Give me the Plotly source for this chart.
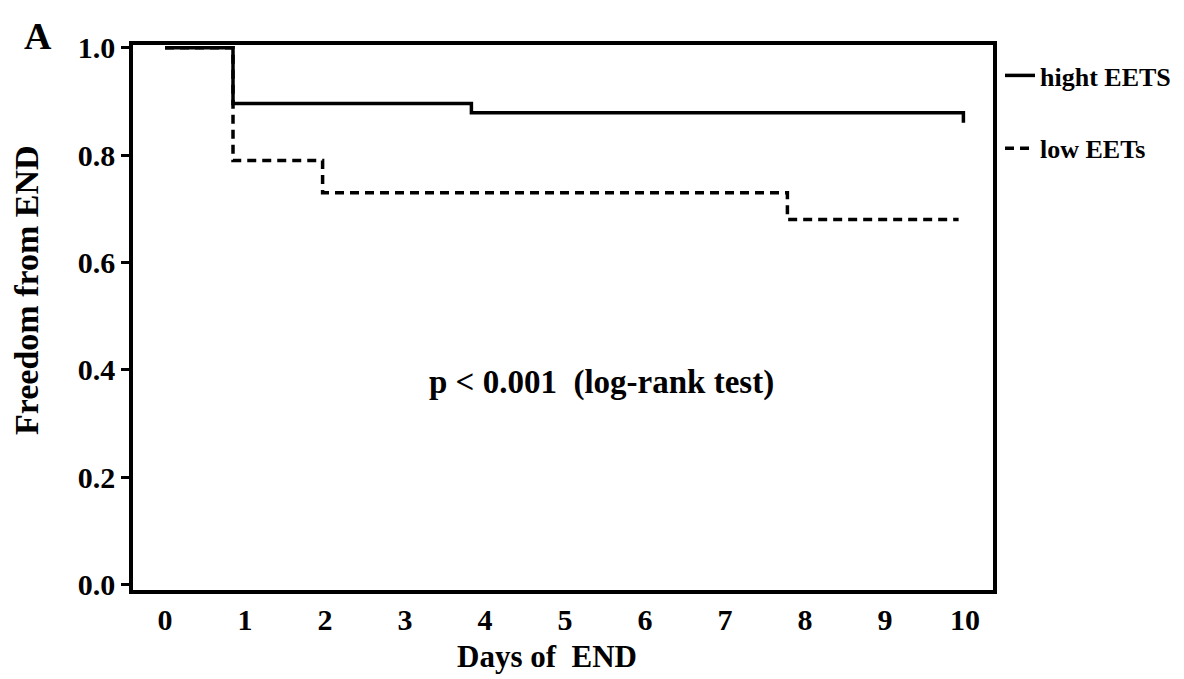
import plotly.graph_objects as go

# Kaplan-Meier step data
high_days = [0, 0.85, 3.83, 9.98]
high_surv = [1.0, 0.896, 0.879, 0.86]
low_days = [0, 0.85, 1.97, 7.78, 9.92]
low_surv = [1.0, 0.79, 0.73, 0.68, 0.68]

x_ticks = list(range(0, 11))
x_labels = [str(v) for v in x_ticks]
y_ticks = [0.0, 0.2, 0.4, 0.6, 0.8, 1.0]
y_labels = ["0.0", "0.2", "0.4", "0.6", "0.8", "1.0"]

FONT = "Liberation Serif"
W, H = 1184, 679
L, R, T, B = 133, 191, 45, 89
PW, PH = W - L - R, H - T - B


def px2paper(px, py):
    return (px - L) / PW, (H - B - py) / PH


fig = go.Figure()
fig.add_trace(go.Scatter(
    x=low_days, y=low_surv, mode="lines", line_shape="hv",
    line=dict(color="black", width=3.5, dash="9px,6px"),
    name="<b>low EETs</b>", legendgroup="b", legendrank=2,
))
fig.add_trace(go.Scatter(
    x=high_days, y=high_surv, mode="lines", line_shape="hv",
    line=dict(color="black", width=3.5),
    name="<b>hight EETS</b>", legendgroup="a", legendrank=1,
))

lx, ly = px2paper(1000, 52)
fig.update_layout(
    width=W, height=H,
    margin=dict(l=L, r=R, t=T, b=B, autoexpand=False),
    plot_bgcolor="white", paper_bgcolor="white",
    font=dict(family=FONT, color="black"),
    showlegend=True,
    legend=dict(x=lx, y=ly, xanchor="left", yanchor="top",
                font=dict(family=FONT, size=26, color="black"),
                tracegroupgap=36, bgcolor="rgba(0,0,0,0)",
                traceorder="grouped"),
)
fig.update_xaxes(
    range=[-0.4, 10.35], tickvals=x_ticks,
    ticktext=["<b>%s</b>" % t for t in x_labels], ticks="",
    showline=True, linewidth=3.5, linecolor="black", mirror=True,
    showgrid=False, zeroline=False, ticklabelstandoff=0,
    tickfont=dict(family=FONT, size=30, color="black"),
)
fig.update_yaxes(
    range=[-0.01, 1.005], tickvals=y_ticks,
    ticktext=["<b>%s</b>" % t for t in y_labels],
    ticks="outside", ticklen=8, tickwidth=2.5, tickcolor="black",
    showline=True, linewidth=3.5, linecolor="black", mirror=True,
    showgrid=False, zeroline=False,
    tickfont=dict(family=FONT, size=30, color="black"),
)

fig.add_annotation(x=5.46, y=0.377, xref="x", yref="y", showarrow=False,
                   text="<b>p &lt; 0.001  (log-rank test)</b>",
                   font=dict(family=FONT, size=33, color="black"))

ax, ay = px2paper(547, 656)
fig.add_annotation(x=ax, y=ay, xref="paper", yref="paper", showarrow=False,
                   xanchor="center", yanchor="middle",
                   text="<b>Days of  END</b>",
                   font=dict(family=FONT, size=31, color="black"))
ax, ay = px2paper(38, 36)
fig.add_annotation(x=ax, y=ay, xref="paper", yref="paper", showarrow=False,
                   xanchor="center", yanchor="middle",
                   text="<b>A</b>",
                   font=dict(family=FONT, size=38, color="black"))
ax, ay = px2paper(26, 290)
fig.add_annotation(x=ax, y=ay, xref="paper", yref="paper", showarrow=False,
                   xanchor="center", yanchor="middle", textangle=-90,
                   text="<b>Freedom from END</b>",
                   font=dict(family=FONT, size=34, color="black"))

fig.write_html("out.html", config={"displayModeBar": False},
               post_script="document.body.style.margin='0';")
